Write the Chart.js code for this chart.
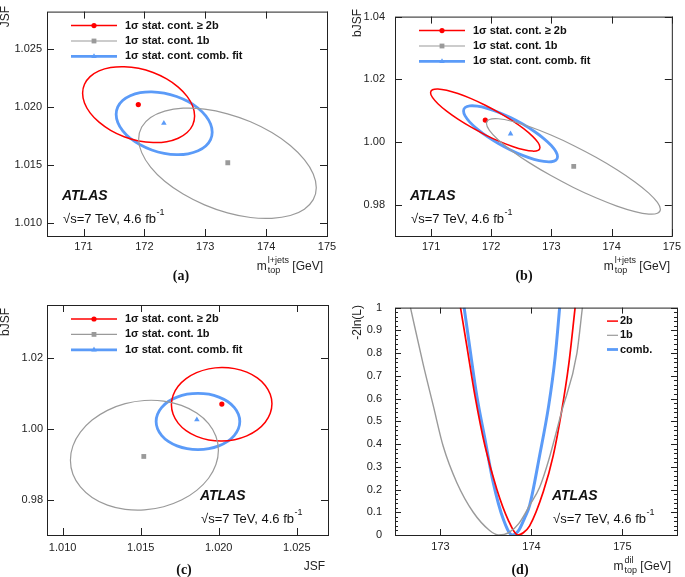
<!DOCTYPE html>
<html>
<head>
<meta charset="utf-8">
<script src="https://cdn.jsdelivr.net/npm/chart.js@4.4.1/dist/chart.umd.min.js"></script>
<style>
  body { margin: 0; background: #fff; }
  #page { position: relative; width: 685px; height: 577px; overflow: hidden; }
  #page canvas { position: absolute; }
  .cap { position: absolute; font: bold 14px "Liberation Serif", "DejaVu Serif", serif; color: #111; transform: translate(-50%, -50%); }
</style>
</head>
<body>
<div id="page">
  <canvas id="pa" width="342" height="288" style="left:0px;top:0px"></canvas>
  <canvas id="pb" width="343" height="288" style="left:342px;top:0px"></canvas>
  <canvas id="pc" width="342" height="289" style="left:0px;top:288px"></canvas>
  <canvas id="pd" width="343" height="289" style="left:342px;top:288px"></canvas>
  <div class="cap" style="left:181px;top:276px">(a)</div>
  <div class="cap" style="left:524px;top:276px">(b)</div>
  <div class="cap" style="left:184px;top:570px">(c)</div>
  <div class="cap" style="left:520px;top:570px">(d)</div>
</div>
<script>
// best fit values: 2b, 1b, comb.
const fitMtop = [171.90, 173.37, 172.32];
const fitJSF = [1.0202, 1.0152, 1.0186];
const fitBJSF = [1.0070, 0.9922, 1.0026];

// (a) 1 sigma contours, m_top vs JSF
const a2bM = [172.825, 172.794, 172.702, 172.556, 172.365, 172.143, 171.905, 171.667, 171.445, 171.255, 171.108, 171.016, 170.985, 171.016, 171.108, 171.255, 171.445, 171.667, 171.905, 172.143, 172.365, 172.556, 172.702, 172.794];
const a2bJSF = [1.01922, 1.02006, 1.02091, 1.02171, 1.02241, 1.02296, 1.02332, 1.02346, 1.02339, 1.02310, 1.02261, 1.02195, 1.02118, 1.02034, 1.01949, 1.01869, 1.01799, 1.01744, 1.01708, 1.01694, 1.01701, 1.01731, 1.01780, 1.01845];
const a1bM = [174.824, 174.774, 174.628, 174.397, 174.094, 173.743, 173.365, 172.988, 172.636, 172.334, 172.102, 171.956, 171.906, 171.956, 172.102, 172.334, 172.636, 172.988, 173.365, 173.743, 174.094, 174.397, 174.628, 174.774];
const a1bJSF = [1.01306, 1.01424, 1.01547, 1.01669, 1.01780, 1.01873, 1.01941, 1.01981, 1.01989, 1.01964, 1.01909, 1.01827, 1.01724, 1.01607, 1.01483, 1.01361, 1.01251, 1.01158, 1.01089, 1.01049, 1.01042, 1.01066, 1.01121, 1.01203];
const aCombM = [173.114, 173.087, 173.008, 172.883, 172.719, 172.529, 172.325, 172.121, 171.931, 171.767, 171.642, 171.563, 171.536, 171.563, 171.642, 171.767, 171.931, 172.121, 172.325, 172.529, 172.719, 172.883, 173.008, 173.087];
const aCombJSF = [1.01783, 1.01853, 1.01923, 1.01989, 1.02046, 1.02090, 1.02119, 1.02130, 1.02123, 1.02097, 1.02056, 1.02001, 1.01937, 1.01867, 1.01797, 1.01731, 1.01675, 1.01630, 1.01601, 1.01590, 1.01597, 1.01623, 1.01664, 1.01719];

// (b) m_top vs bJSF
const b2bM = [172.809, 172.778, 172.687, 172.543, 172.354, 172.135, 171.900, 171.665, 171.446, 171.258, 171.113, 171.022, 170.991, 171.022, 171.113, 171.258, 171.446, 171.665, 171.900, 172.135, 172.354, 172.543, 172.687, 172.778];
const b2bBJSF = [0.99827, 0.99978, 1.00179, 1.00416, 1.00672, 1.00930, 1.01172, 1.01382, 1.01545, 1.01651, 1.01692, 1.01666, 1.01574, 1.01422, 1.01221, 1.00984, 1.00728, 1.00471, 1.00228, 1.00018, 0.99855, 0.99749, 0.99708, 0.99734];
const b1bM = [174.810, 174.761, 174.617, 174.387, 174.088, 173.739, 173.365, 172.991, 172.642, 172.343, 172.113, 171.969, 171.920, 171.969, 172.113, 172.343, 172.642, 172.991, 173.365, 173.739, 174.088, 174.387, 174.617, 174.761];
const b1bBJSF = [0.97850, 0.98070, 0.98369, 0.98725, 0.99115, 0.99512, 0.99890, 1.00221, 1.00485, 1.00662, 1.00741, 1.00716, 1.00590, 1.00370, 1.00071, 0.99715, 0.99325, 0.98928, 0.98550, 0.98219, 0.97955, 0.97778, 0.97699, 0.97724];
const bCombM = [173.101, 173.075, 172.997, 172.873, 172.711, 172.522, 172.320, 172.118, 171.929, 171.768, 171.643, 171.565, 171.539, 171.565, 171.643, 171.768, 171.929, 172.118, 172.320, 172.522, 172.711, 172.873, 172.997, 173.075];
const bCombBJSF = [0.99530, 0.99688, 0.99886, 1.00109, 1.00343, 1.00571, 1.00777, 1.00949, 1.01073, 1.01142, 1.01151, 1.01099, 1.00990, 1.00831, 1.00634, 1.00411, 1.00177, 0.99949, 0.99743, 0.99571, 0.99447, 0.99378, 0.99369, 0.99421];

// (c) JSF vs bJSF
const c2bJSF = [1.02341, 1.02330, 1.02298, 1.02247, 1.02180, 1.02102, 1.02019, 1.01936, 1.01858, 1.01791, 1.01740, 1.01708, 1.01697, 1.01708, 1.01740, 1.01791, 1.01858, 1.01936, 1.02019, 1.02102, 1.02180, 1.02247, 1.02298, 1.02330];
const c2bBJSF = [1.00708, 1.00977, 1.01226, 1.01439, 1.01602, 1.01702, 1.01734, 1.01695, 1.01588, 1.01419, 1.01202, 1.00950, 1.00680, 1.00411, 1.00162, 0.99949, 0.99786, 0.99686, 0.99654, 0.99693, 0.99800, 0.99969, 1.00186, 1.00438];
const c1bJSF = [1.01998, 1.01982, 1.01935, 1.01859, 1.01761, 1.01647, 1.01524, 1.01401, 1.01287, 1.01189, 1.01114, 1.01066, 1.01050, 1.01066, 1.01114, 1.01189, 1.01287, 1.01401, 1.01524, 1.01647, 1.01761, 1.01859, 1.01935, 1.01982];
const c1bBJSF = [0.99396, 0.99792, 1.00150, 1.00448, 1.00665, 1.00785, 1.00801, 1.00712, 1.00523, 1.00248, 0.99906, 0.99519, 0.99114, 0.98718, 0.98360, 0.98062, 0.97846, 0.97725, 0.97709, 0.97798, 0.97987, 0.98262, 0.98604, 0.98991];
const cCombJSF = [1.02135, 1.02126, 1.02099, 1.02057, 1.02001, 1.01937, 1.01867, 1.01797, 1.01733, 1.01677, 1.01635, 1.01608, 1.01599, 1.01608, 1.01635, 1.01677, 1.01733, 1.01797, 1.01867, 1.01937, 1.02001, 1.02057, 1.02099, 1.02126];
const cCombBJSF = [1.00208, 1.00414, 1.00607, 1.00772, 1.00898, 1.00978, 1.01005, 1.00978, 1.00898, 1.00772, 1.00607, 1.00414, 1.00208, 1.00002, 0.99810, 0.99644, 0.99518, 0.99438, 0.99411, 0.99438, 0.99518, 0.99644, 0.99810, 1.00002];

// (d) -2ln(L) vs m_top dilepton
const d2bM = [173.22, 173.29, 173.38, 173.49, 173.62, 173.74, 173.85, 173.91, 173.98, 174.13, 174.24, 174.33, 174.41, 174.48];
const d2bNLL = [1.0, 0.83, 0.61, 0.39, 0.20, 0.07, 0.0, 0.01, 0.04, 0.19, 0.35, 0.54, 0.75, 1.0];
const d1bM = [172.67, 172.81, 172.92, 173.03, 173.18, 173.36, 173.54, 173.64, 173.75, 173.86, 173.98, 174.09, 174.19, 174.33, 174.50, 174.56];
const d1bNLL = [1.0, 0.75, 0.57, 0.39, 0.23, 0.10, 0.02, 0.0, 0.01, 0.05, 0.13, 0.21, 0.33, 0.54, 0.80, 1.0];
const dCombM = [173.26, 173.32, 173.40, 173.49, 173.58, 173.69, 173.79, 173.86, 173.92, 173.98, 174.09, 174.19, 174.26, 174.31];
const dCombNLL = [1.0, 0.83, 0.61, 0.42, 0.23, 0.07, 0.0, 0.02, 0.07, 0.13, 0.35, 0.57, 0.78, 1.0];

// tick labels
const mTicks = [171, 172, 173, 174, 175];
const jsfTicks = [1.010, 1.015, 1.020, 1.025];
const bjsfTicksB = [0.98, 1.00, 1.02, 1.04];
const bjsfTicksC = [0.98, 1.00, 1.02];
const mDilTicks = [173, 174, 175];
const nllTicks = [0, 0.1, 0.2, 0.3, 0.4, 0.5, 0.6, 0.7, 0.8, 0.9, 1];

const contLabels = ['1σ stat. cont. ≥ 2b', '1σ stat. cont. 1b', '1σ stat. cont. comb. fit'];
const nllLabels = ['2b', '1b', 'comb.'];

// styles
const FAM = '"Liberation Sans", Arial, sans-serif';
const INK = '#222';
const colors = ['#ff0000', '#9a9a9a', '#5b9bf8'];
const widths = [1.5, 1.2, 2.8];
const markers = ['circle', 'rect', 'triangle'];
const markerSize = [2.6, 3.4, 3.2];
Chart.defaults.font.family = FAM;

function closedLoop(xs, ys) {
  const pts = xs.map((x, i) => ({ x: x, y: ys[i] }));
  const n = pts.length;
  return [pts[n - 1]].concat(pts, [pts[0], pts[1]]);
}

function contour(xs, ys, k) {
  const data = closedLoop(xs, ys);
  const last = data.length - 2;
  return {
    data: data, showLine: true, pointRadius: 0, tension: 0.4, fill: false,
    borderColor: colors[k], borderWidth: widths[k],
    segment: { borderColor: c => (c.p0DataIndex === 0 || c.p0DataIndex === last) ? 'rgba(0,0,0,0)' : undefined }
  };
}

function fitPoint(x, y, k) {
  return {
    data: [{ x: x, y: y }], showLine: false, pointStyle: markers[k], pointRadius: markerSize[k],
    backgroundColor: colors[k], borderColor: colors[k], borderWidth: 0
  };
}

function nllCurve(xs, ys, k) {
  return {
    data: xs.map((x, i) => ({ x: x, y: ys[i] })), showLine: true, pointRadius: 0,
    cubicInterpolationMode: 'monotone', borderColor: colors[k], borderWidth: widths[k] + 0.2
  };
}

function axis(min, max, ticks, digits, size, pad, isY) {
  return {
    type: 'linear', min: min, max: max,
    grid: { display: false, drawTicks: false },
    border: { display: false },
    ticks: {
      font: { size: 11 }, color: INK, padding: pad, maxRotation: 0, autoSkip: false,
      callback: v => (digits === 'nll' ? (v === 0 || v === 1 ? String(v) : v.toFixed(1)) : v.toFixed(digits))
    },
    afterBuildTicks: s => { s.ticks = ticks.map(v => ({ value: v })); },
    afterFit: s => { if (isY) s.width = size; else s.height = size; }
  };
}

function drawXTitle(ctx, t) {
  const big = '12px ' + FAM, small = '9px ' + FAM;
  ctx.fillStyle = INK;
  ctx.textBaseline = 'alphabetic';
  ctx.font = big;
  if (!t.sub) { ctx.textAlign = 'right'; ctx.fillText(t.main, t.right, t.base); return; }
  ctx.textAlign = 'left';
  const wm = ctx.measureText(t.main).width;
  const wu = ctx.measureText(' ' + t.unit).width;
  ctx.font = small;
  const ws = Math.max(ctx.measureText(t.sub).width, ctx.measureText(t.sup).width);
  let x = t.right - wu - ws - wm - 1;
  ctx.font = big;
  ctx.fillText(t.main, x, t.base);
  x += wm + 1;
  ctx.font = small;
  ctx.fillText(t.sup, x, t.base - 7);
  ctx.fillText(t.sub, x, t.base + 3);
  ctx.font = big;
  ctx.fillText(' ' + t.unit, x + ws, t.base);
}

const deco = {
  id: 'deco',
  afterDatasetsDraw(chart, args, o) {
    const ctx = chart.ctx, a = chart.chartArea, sx = chart.scales.x, sy = chart.scales.y;
    ctx.save();
    // frame with inward ticks on all sides
    ctx.strokeStyle = INK;
    ctx.lineWidth = 1;
    ctx.beginPath();
    const tickX = (v, len) => {
      const p = Math.round(sx.getPixelForValue(v)) + 0.5;
      ctx.moveTo(p, a.bottom); ctx.lineTo(p, a.bottom - len);
      ctx.moveTo(p, a.top); ctx.lineTo(p, a.top + len);
    };
    const tickY = (v, len) => {
      const p = Math.round(sy.getPixelForValue(v)) + 0.5;
      ctx.moveTo(a.left, p); ctx.lineTo(a.left + len, p);
      ctx.moveTo(a.right, p); ctx.lineTo(a.right - len, p);
    };
    sx.ticks.forEach(t => tickX(t.value, o.tick));
    sy.ticks.forEach(t => tickY(t.value, o.tick));
    if (o.yMinor) {
      for (let v = sy.min; v <= sy.max + 1e-9; v += o.yMinor) tickY(v, o.tick / 2);
    }
    ctx.stroke();
    ctx.strokeRect(a.left + 0.5, a.top + 0.5, a.width, a.height);

    // legend: line with marker, then label
    const L = o.legend;
    L.labels.forEach((lab, i) => {
      const y = a.top + L.y0 + i * L.dy;
      ctx.strokeStyle = colors[i];
      ctx.lineWidth = widths[i];
      ctx.beginPath();
      ctx.moveTo(a.left + L.x0, y); ctx.lineTo(a.left + L.x1, y);
      ctx.stroke();
      if (L.marks) {
        ctx.fillStyle = colors[i];
        Chart.helpers.drawPoint(ctx, { pointStyle: markers[i], radius: markerSize[i], rotation: 0, borderWidth: 0 },
          a.left + (L.x0 + L.x1) / 2, y);
      }
      ctx.fillStyle = '#111';
      ctx.font = 'bold 11px ' + FAM;
      ctx.textAlign = 'left';
      ctx.textBaseline = 'middle';
      ctx.fillText(lab, a.left + L.xt, y);
    });

    // ATLAS label
    ctx.fillStyle = '#111';
    ctx.textAlign = 'left';
    ctx.textBaseline = 'middle';
    ctx.font = 'italic bold 14px ' + FAM;
    ctx.fillText('ATLAS', o.atlas[0], o.atlas[1]);
    ctx.font = '13px ' + FAM;
    const e = '√s=7 TeV, 4.6 fb';
    ctx.fillText(e, o.atlas[0] + 1, o.atlas[1] + 23);
    const we = ctx.measureText(e).width;
    ctx.font = '9px ' + FAM;
    ctx.fillText('-1', o.atlas[0] + 1 + we + 0.5, o.atlas[1] + 17);

    // axis titles
    ctx.save();
    ctx.translate(o.yTitle[1], o.yTitle[2]);
    ctx.rotate(-Math.PI / 2);
    ctx.font = '12px ' + FAM;
    ctx.fillStyle = INK;
    ctx.textAlign = 'right';
    ctx.textBaseline = 'middle';
    ctx.fillText(o.yTitle[0], 0, 0);
    ctx.restore();
    drawXTitle(ctx, o.xTitle);
    ctx.restore();
  }
};

function panel(id, datasets, scales, pad, decoOpts) {
  new Chart(document.getElementById(id), {
    type: 'scatter',
    data: { datasets: datasets },
    options: {
      responsive: false, animation: false, events: [],
      layout: { padding: pad, autoPadding: false },
      scales: scales,
      plugins: { legend: { display: false }, tooltip: { enabled: false }, deco: decoOpts }
    },
    plugins: [deco]
  });
}

const contLegend = { labels: contLabels, x0: 24, x1: 70, xt: 78, y0: 14, dy: 15.4, marks: true };

panel('pa', [
  contour(a1bM, a1bJSF, 1), contour(a2bM, a2bJSF, 0), contour(aCombM, aCombJSF, 2),
  fitPoint(fitMtop[1], fitJSF[1], 1), fitPoint(fitMtop[0], fitJSF[0], 0), fitPoint(fitMtop[2], fitJSF[2], 2)
], {
  x: axis(170.4, 175.0, mTicks, 0, 52, 4, false),
  y: axis(1.0089, 1.0282, jsfTicks, 3, 47, 5, true)
}, { left: 0, right: 15, top: 5, bottom: 0 }, {
  tick: 7, legend: contLegend, atlas: [62, 196],
  yTitle: ['JSF', 6, 6], xTitle: { main: 'm', sub: 'top', sup: 'l+jets', unit: '[GeV]', right: 323, base: 270 }
});

panel('pb', [
  contour(b1bM, b1bBJSF, 1), contour(b2bM, b2bBJSF, 0), contour(bCombM, bCombBJSF, 2),
  fitPoint(fitMtop[1], fitBJSF[1], 1), fitPoint(fitMtop[0], fitBJSF[0], 0), fitPoint(fitMtop[2], fitBJSF[2], 2)
], {
  x: axis(170.4, 175.0, mTicks, 0, 52, 4, false),
  y: axis(0.97, 1.04, bjsfTicksB, 2, 53, 10, true)
}, { left: 0, right: 8, top: 6, bottom: 0 }, {
  tick: 7, legend: contLegend, atlas: [68, 196],
  yTitle: ['bJSF', 16, 9], xTitle: { main: 'm', sub: 'top', sup: 'l+jets', unit: '[GeV]', right: 328, base: 270 }
});

panel('pc', [
  contour(c1bJSF, c1bBJSF, 1), contour(c2bJSF, c2bBJSF, 0), contour(cCombJSF, cCombBJSF, 2),
  fitPoint(fitJSF[1], fitBJSF[1], 1), fitPoint(fitJSF[0], fitBJSF[0], 0), fitPoint(fitJSF[2], fitBJSF[2], 2)
], {
  x: axis(1.009, 1.027, jsfTicks, 3, 42, 6, false),
  y: axis(0.97, 1.035, bjsfTicksC, 2, 47, 4, true)
}, { left: 0, right: 14, top: 17, bottom: 0 }, {
  tick: 7, legend: contLegend, atlas: [200, 208],
  yTitle: ['bJSF', 6, 20], xTitle: { main: 'JSF', right: 325, base: 282 }
});

panel('pd', [
  nllCurve(d1bM, d1bNLL, 1), nllCurve(d2bM, d2bNLL, 0), nllCurve(dCombM, dCombNLL, 2)
], {
  x: axis(172.5, 175.6, mDilTicks, 0, 42, 5, false),
  y: axis(0, 1, nllTicks, 'nll', 53, 13, true)
}, { left: 0, right: 8, top: 17, bottom: 0 }, {
  tick: 6, yMinor: 0.02,
  legend: { labels: nllLabels, x0: 212, x1: 223, xt: 225, y0: 13.5, dy: 14.2, marks: false },
  atlas: [210, 208],
  yTitle: ['-2ln(L)', 16, 17], xTitle: { main: 'm', sub: 'top', sup: 'dil', unit: '[GeV]', right: 329, base: 282 }
});
</script>
</body>
</html>
